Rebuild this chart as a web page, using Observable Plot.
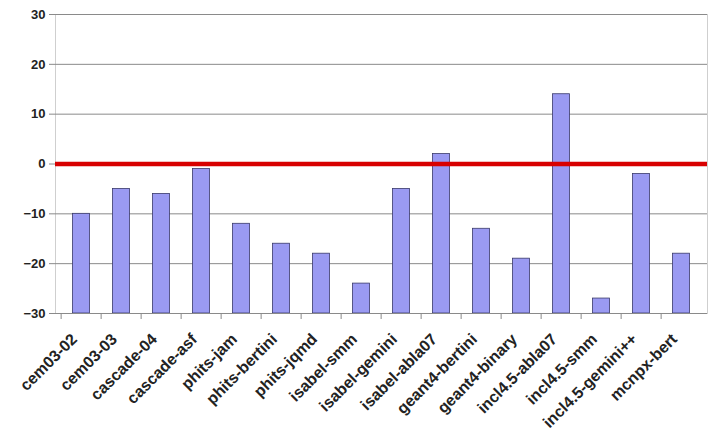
<!DOCTYPE html>
<html>
<head>
<meta charset="utf-8">
<script src="https://cdn.jsdelivr.net/npm/d3@7"></script>
<script src="https://cdn.jsdelivr.net/npm/@observablehq/plot@0.6"></script>
<style>
  html, body { margin: 0; padding: 0; background: #fff; }
  #chart svg { display: block; }
</style>
</head>
<body>
<div id="chart"></div>
<script>
const categories = ["cem03-02","cem03-03","cascade-04","cascade-asf","phits-jam","phits-bertini","phits-jqmd","isabel-smm","isabel-gemini","isabel-abla07","geant4-bertini","geant4-binary","incl4.5-abla07","incl4.5-smm","incl4.5-gemini++","mcnpx-bert"];
const values = [-10, -5, -6, -1, -12, -16, -18, -24, -5, 2, -13, -19, 14, -27, -2, -18];
const yTicks = [-30, -20, -10, 0, 10, 20, 30];
const gridTicks = [-20, -10, 10, 20, 30];
const refLine = [0];
const baseValue = -30;

const data = categories.map((c, i) => ({cat: c, val: values[i]}));

const W = 711, H = 436;
const mL = 55, mR = 4, mT = 14, mB = 123;
const step = (W - mL - mR) / categories.length;

const chart = Plot.plot({
  width: W,
  height: H,
  marginLeft: mL,
  marginRight: mR,
  marginTop: mT,
  marginBottom: mB,
  style: {fontFamily: "'Liberation Sans', Arial, sans-serif", fontWeight: "bold", fontSize: "13px", color: "#222", background: "#fff"},
  x: {domain: categories, padding: 0},
  y: {domain: [-30, 30]},
  marks: [
    Plot.frame({stroke: "#cfcfcf"}),
    Plot.ruleY(gridTicks, {stroke: "#8a8a8a", strokeWidth: 1}),
    Plot.barY(data, {x: "cat", y1: baseValue, y2: "val", fill: "#9a9af2", stroke: "#3a3a6a", strokeWidth: 0.8, insetLeft: 11.5, insetRight: 11.5}),
    Plot.ruleY(refLine, {stroke: "#d80000", strokeWidth: 4.5}),
    Plot.ruleX([0], {frameAnchor: "left", stroke: "#8a8a8a", strokeWidth: 1.2}),
    Plot.ruleY([baseValue], {stroke: "#8a8a8a", strokeWidth: 1.2}),
    Plot.axisY(yTicks, {tickSize: 6, tickPadding: 4, stroke: "#8a8a8a", fontSize: 13, fontWeight: "bold", fill: "#222", label: null}),
    Plot.axisX({tickSize: 6, dx: -step / 2, text: null, stroke: "#8a8a8a", label: null}),
    Plot.axisX({tickSize: 0, tickPadding: 23, dx: -7, tickRotate: -45, fontSize: 16, fontWeight: "bold", fill: "#222", label: null})
  ]
});
document.getElementById("chart").append(chart);
</script>
</body>
</html>
